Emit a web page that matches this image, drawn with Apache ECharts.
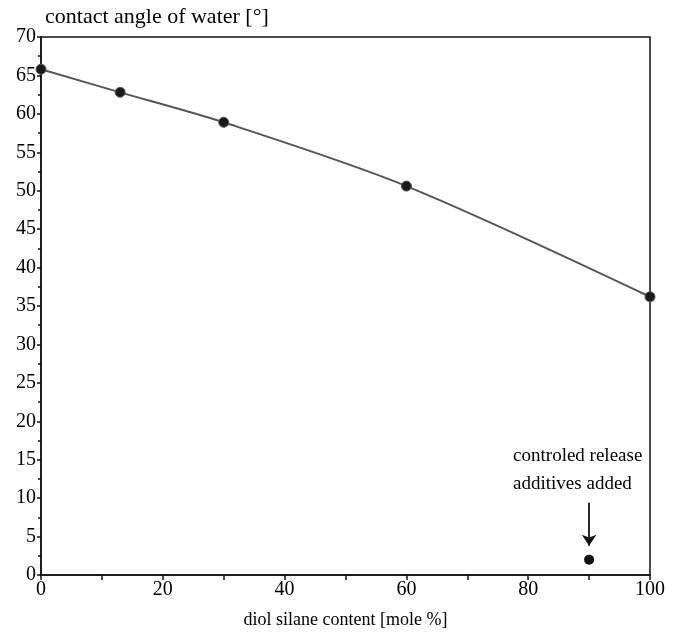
<!DOCTYPE html>
<html><head><meta charset="utf-8">
<script src="https://cdn.jsdelivr.net/npm/echarts@6/dist/echarts.min.js"></script>
<style>html,body{margin:0;padding:0;background:#fff}#c{width:674px;height:639px}</style>
</head><body><div id="c"></div>
<script>
var diolContent = [0, 13, 30, 60, 100];
var contactAngle = [65.8, 62.8, 58.9, 50.6, 36.2];
var additivePoint = [[90, 2]];
var annotationText = 'controled release\nadditives added';
var yTitle = 'contact angle of water [°]';
var xTitle = 'diol silane content [mole %]';

var FONT = '"Liberation Serif", "DejaVu Serif", serif';
var chart = echarts.init(document.getElementById('c'));
chart.setOption({
  backgroundColor: '#fff',
  animation: false,
  textStyle: {fontFamily: FONT, color: '#000'},
  grid: {left: 41, right: 24, top: 37, bottom: 64, show: true, borderColor: '#111', borderWidth: 1.5},
  xAxis: {
    type: 'value', min: 0, max: 100, interval: 20,
    name: xTitle, nameLocation: 'middle', nameGap: 36,
    nameTextStyle: {fontFamily: FONT, fontSize: 18, color: '#000'},
    axisLine: {lineStyle: {color: '#111', width: 1.5}},
    axisTick: {show: true, length: 5, inside: false, lineStyle: {color: '#111', width: 1.5}},
    minorTick: {show: true, splitNumber: 2, length: 5, lineStyle: {color: '#111', width: 1.5}},
    axisLabel: {fontFamily: FONT, fontSize: 20, color: '#000', margin: 5},
    splitLine: {show: false}
  },
  yAxis: {
    type: 'value', min: 0, max: 70, interval: 5,
    name: yTitle, nameLocation: 'end', nameGap: 9,
    nameTextStyle: {fontFamily: FONT, fontSize: 22, color: '#000', align: 'left', padding: [0, 0, 0, 4]},
    axisLine: {lineStyle: {color: '#111', width: 1.5}},
    axisTick: {show: true, length: 4, lineStyle: {color: '#111', width: 1.5}},
    minorTick: {show: true, splitNumber: 2, length: 3, lineStyle: {color: '#111', width: 1.5}},
    axisLabel: {fontFamily: FONT, fontSize: 20, color: '#000', margin: 5},
    splitLine: {show: false}
  },
  series: [
    {
      type: 'line',
      data: diolContent.map(function (x, i) { return [x, contactAngle[i]]; }),
      smooth: 0.3,
      symbol: 'circle', symbolSize: 10,
      itemStyle: {color: '#1a1a1a', borderColor: '#555', borderWidth: 1},
      lineStyle: {color: '#555', width: 2},
      z: 3
    },
    {
      type: 'scatter',
      data: additivePoint,
      symbol: 'circle', symbolSize: 10,
      itemStyle: {color: '#111', opacity: 1},
      markLine: {
        silent: true,
        symbol: ['none', 'arrow'], symbolSize: 11,
        lineStyle: {color: '#111', width: 1.8, type: 'solid'},
        label: {
          show: true, position: 'start', formatter: annotationText,
          fontFamily: FONT, fontSize: 19, color: '#000', lineHeight: 28,
          align: 'left', offset: [-76, 0]
        },
        data: [[{coord: [90, 9.4]}, {coord: [90, 3.8]}]]
      }
    }
  ]
});
</script></body></html>
